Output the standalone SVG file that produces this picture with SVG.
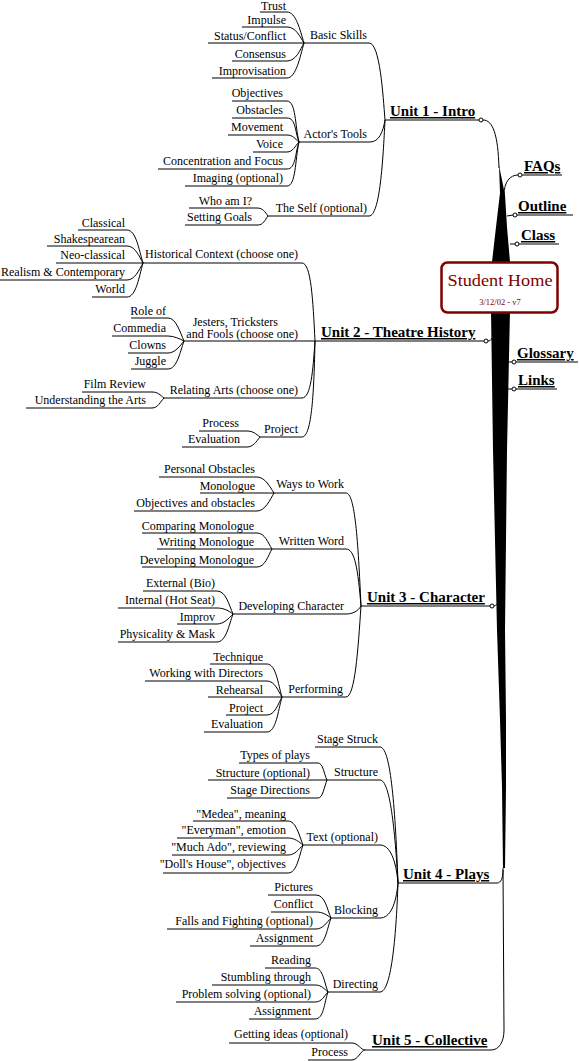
<svg xmlns="http://www.w3.org/2000/svg" width="579" height="1061" viewBox="0 0 579 1061">
<style>
text{font-family:"Liberation Serif","Times New Roman",serif;fill:#000}
.l{font-size:12px;text-anchor:end}
.u{font-size:15px;font-weight:bold;text-decoration:underline}
.k{font-size:15px;font-weight:bold;text-decoration:underline}
.c path{fill:none;stroke:#000;stroke-width:1}
.c circle{fill:#fff;stroke:#000;stroke-width:1}
.t{fill:#000}
.title{font-size:17px;fill:#800000;text-anchor:middle}
.sub{font-size:8.5px;fill:#800000;text-anchor:middle}
</style>
<rect width="579" height="1061" fill="#fff"/>
<g id="trunk">
<path class="t" d="M499,165 L503,185 L505,195 L507,227 L510,262 L492,262 L496,227 L500,193 Z"/>
<path class="t" d="M491,310 L510,310 L507,450 L505,630 L506,720 L506,787 L505,868 L503,868 L502,787 L500,720 L497,630 L493,450 Z"/>
</g>
<g id="connectors" class="c">
<path d="M260,12H287C296,12 300,30 304,43"/>
<path d="M242,27H287C296,27 300,37 304,43"/>
<path d="M208,43H369C380,43 383,95 385,120"/>
<path d="M232,61H287C296,61 300,50 304,43"/>
<path d="M212,78H287C296,78 300,57 304,43"/>
<path d="M232,101H287C296,101 295,126 299,142"/>
<path d="M232,118H287C296,118 295,132 299,142"/>
<path d="M228,135H287C293,135 295,139 299,142"/>
<path d="M253,152H287C293,152 295,146 299,142"/>
<path d="M158,169H287C296,169 295,153 299,142"/>
<path d="M185,186H287C296,186 295,160 299,142"/>
<path d="M299,142H370C379,142 383,132 385,120"/>
<path d="M189,208H257C263,208 265,212 268,216"/>
<path d="M185,225H258C263,225 265,220 268,216"/>
<path d="M268,216H369C380,216 383,160 385,120"/>
<path d="M385,120H479"/>
<circle cx="481" cy="120" r="2"/>
<path d="M483,120C493,120 498,135 499,168"/>
<path d="M504,195C504,182 510,175 518,175"/>
<circle cx="520" cy="175" r="2"/>
<path d="M522,175H562"/>
<path d="M507,216L513,215"/>
<circle cx="515" cy="215" r="2"/>
<path d="M517,215H573"/>
<path d="M510,244L515,244"/>
<circle cx="517" cy="244" r="2"/>
<path d="M519,244H559"/>
<path d="M508,362L512,362"/>
<circle cx="514" cy="362" r="2"/>
<path d="M516,362H578"/>
<path d="M507,389L512,389"/>
<circle cx="514" cy="389" r="2"/>
<path d="M516,389H557"/>
<path d="M78,230H127C136,230 139,250 143,263"/>
<path d="M47,246H127C135,246 139,256 143,263"/>
<path d="M56,263H302C311,263 313,300 315,341"/>
<path d="M0,280H127C135,280 139,270 143,263"/>
<path d="M92,297H127C136,297 139,277 143,263"/>
<path d="M131,318H168C176,318 180,332 184,341"/>
<path d="M112,336H168C174,336 180,339 184,341"/>
<path d="M128,353H168C175,353 180,346 184,341"/>
<path d="M131,369H168C177,369 180,352 184,341"/>
<path d="M184,341H315"/>
<path d="M82,392H152C158,392 160,395 164,398"/>
<path d="M26,408H152C158,408 160,402 164,398"/>
<path d="M164,398H302C311,398 313,370 315,341"/>
<path d="M199,431H247C253,431 256,434 260,437"/>
<path d="M182,447H247C253,447 256,442 260,437"/>
<path d="M260,437H302C312,437 314,390 315,341"/>
<path d="M315,341H484"/>
<circle cx="486" cy="341" r="2"/>
<path d="M488,341C490,341 491,340 492,338"/>
<path d="M159,477H257C265,477 270,487 274,493"/>
<path d="M200,493H346C355,493 358,540 361,606"/>
<path d="M134,511H257C265,511 270,500 274,493"/>
<path d="M142,533H257C265,533 268,543 272,549"/>
<path d="M157,549H346C355,549 358,570 361,606"/>
<path d="M142,567H257C265,567 268,556 272,549"/>
<path d="M143,591H217C226,591 229,605 233,614"/>
<path d="M118,608H217C224,608 229,611 233,614"/>
<path d="M177,624H217C224,624 229,618 233,614"/>
<path d="M118,642H217C226,642 229,625 233,614"/>
<path d="M233,614H346C353,614 358,611 361,606"/>
<path d="M210,664H267C276,664 278,684 282,697"/>
<path d="M145,681H267C275,681 278,691 282,697"/>
<path d="M208,697H346C355,697 358,650 361,606"/>
<path d="M226,715H267C275,715 278,704 282,697"/>
<path d="M204,732H267C276,732 278,711 282,697"/>
<path d="M361,606H490"/>
<circle cx="492" cy="606" r="2"/>
<path d="M494,606C495,606 496,605 497,604"/>
<path d="M315,747H380C390,747 395,800 398,883"/>
<path d="M239,763H318C323,763 324,774 327,780"/>
<path d="M208,780H380C390,780 395,830 398,883"/>
<path d="M227,798H318C323,798 324,787 327,780"/>
<path d="M193,821H288C296,821 299,835 303,845"/>
<path d="M177,838H288C295,838 299,842 303,845"/>
<path d="M172,855H288C295,855 299,849 303,845"/>
<path d="M163,873H288C297,873 299,856 303,845"/>
<path d="M303,845H380C390,845 396,860 398,883"/>
<path d="M268,895H316C325,895 327,909 331,918"/>
<path d="M271,912H316C323,912 327,915 331,918"/>
<path d="M167,929H316C323,929 327,922 331,918"/>
<path d="M250,946H316C325,946 327,929 331,918"/>
<path d="M331,918H380C390,918 396,905 398,883"/>
<path d="M265,968H315C323,968 324,982 328,992"/>
<path d="M212,985H315C322,985 324,989 328,992"/>
<path d="M176,1002H315C322,1002 324,996 328,992"/>
<path d="M249,1019H315C324,1019 324,1003 328,992"/>
<path d="M328,992H380C391,992 396,940 398,883"/>
<path d="M398,883H497C501,883 503,878 503,870"/>
<path d="M229,1043H352C358,1043 361,1050 365,1050"/>
<path d="M308,1060H352C358,1060 361,1050 365,1050"/>
<path d="M365,1050H491C499,1050 504,1042 504,1030L503,868"/>
</g>
<g id="student-home">
<rect x="441.5" y="262.5" width="116" height="50" rx="6" fill="#fff" stroke="#800000" stroke-width="2.5"/>
<text class="title" x="500" y="286" textLength="105" lengthAdjust="spacingAndGlyphs">Student Home</text>
<text class="sub" x="500" y="305">3/12/02 - v7</text>
</g>
<g id="faqs"><text class="k" x="524" y="171">FAQs</text></g>
<g id="outline"><text class="k" x="518" y="211">Outline</text></g>
<g id="class"><text class="k" x="521" y="240">Class</text></g>
<g id="glossary"><text class="k" x="517" y="358">Glossary</text></g>
<g id="links"><text class="k" x="518" y="385">Links</text></g>
<g id="unit1"><text class="u" x="390" y="116">Unit 1 - Intro</text></g>
<g id="basic-skills"><text class="l" x="367" y="39">Basic Skills</text></g>
<g id="trust"><text class="l" x="286" y="10">Trust</text></g>
<g id="impulse"><text class="l" x="286" y="24">Impulse</text></g>
<g id="status"><text class="l" x="286" y="40">Status/Conflict</text></g>
<g id="consensus"><text class="l" x="286" y="58">Consensus</text></g>
<g id="improvisation"><text class="l" x="286" y="75">Improvisation</text></g>
<g id="actors-tools"><text class="l" x="367" y="138">Actor's Tools</text></g>
<g id="objectives"><text class="l" x="283" y="97">Objectives</text></g>
<g id="obstacles"><text class="l" x="283" y="114">Obstacles</text></g>
<g id="movement"><text class="l" x="283" y="131">Movement</text></g>
<g id="voice"><text class="l" x="283" y="148">Voice</text></g>
<g id="concentration"><text class="l" x="283" y="165">Concentration and Focus</text></g>
<g id="imaging"><text class="l" x="283" y="182">Imaging (optional)</text></g>
<g id="the-self"><text class="l" x="367" y="212">The Self (optional)</text></g>
<g id="who-am-i"><text class="l" x="252" y="205">Who am I?</text></g>
<g id="setting-goals"><text class="l" x="252" y="221">Setting Goals</text></g>
<g id="unit2"><text class="u" x="321" y="337">Unit 2 - Theatre History</text></g>
<g id="historical"><text class="l" x="298" y="258">Historical Context (choose one)</text></g>
<g id="classical"><text class="l" x="125" y="227">Classical</text></g>
<g id="shakespearean"><text class="l" x="125" y="243">Shakespearean</text></g>
<g id="neo-classical"><text class="l" x="125" y="259">Neo-classical</text></g>
<g id="realism"><text class="l" x="125" y="276">Realism &amp; Contemporary</text></g>
<g id="world"><text class="l" x="125" y="293">World</text></g>
<g id="jesters"><text class="l" x="278" y="326">Jesters, Tricksters</text><text class="l" x="298" y="338">and Fools (choose one)</text></g>
<g id="role-of"><text class="l" x="166" y="315">Role of</text></g>
<g id="commedia"><text class="l" x="166" y="332">Commedia</text></g>
<g id="clowns"><text class="l" x="166" y="349">Clowns</text></g>
<g id="juggle"><text class="l" x="166" y="365">Juggle</text></g>
<g id="relating-arts"><text class="l" x="298" y="394">Relating Arts (choose one)</text></g>
<g id="film-review"><text class="l" x="146" y="388">Film Review</text></g>
<g id="understanding"><text class="l" x="146" y="404">Understanding the Arts</text></g>
<g id="project2"><text class="l" x="298" y="433">Project</text></g>
<g id="process2"><text class="l" x="239" y="427">Process</text></g>
<g id="evaluation2"><text class="l" x="240" y="443">Evaluation</text></g>
<g id="unit3"><text class="u" x="367" y="602">Unit 3 - Character</text></g>
<g id="ways-to-work"><text class="l" x="344" y="488">Ways to Work</text></g>
<g id="personal-obstacles"><text class="l" x="255" y="473">Personal Obstacles</text></g>
<g id="monologue"><text class="l" x="255" y="490">Monologue</text></g>
<g id="obj-obstacles"><text class="l" x="255" y="507">Objectives and obstacles</text></g>
<g id="written-word"><text class="l" x="344" y="545">Written Word</text></g>
<g id="comparing"><text class="l" x="254" y="530">Comparing Monologue</text></g>
<g id="writing"><text class="l" x="254" y="546">Writing Monologue</text></g>
<g id="developing-mono"><text class="l" x="254" y="564">Developing Monologue</text></g>
<g id="developing-char"><text class="l" x="344" y="610">Developing Character</text></g>
<g id="external"><text class="l" x="215" y="587">External (Bio)</text></g>
<g id="internal"><text class="l" x="215" y="604">Internal (Hot Seat)</text></g>
<g id="improv"><text class="l" x="215" y="621">Improv</text></g>
<g id="physicality"><text class="l" x="215" y="638">Physicality &amp; Mask</text></g>
<g id="performing"><text class="l" x="343" y="693">Performing</text></g>
<g id="technique"><text class="l" x="263" y="661">Technique</text></g>
<g id="working"><text class="l" x="263" y="677">Working with Directors</text></g>
<g id="rehearsal"><text class="l" x="263" y="694">Rehearsal</text></g>
<g id="project3"><text class="l" x="263" y="712">Project</text></g>
<g id="evaluation3"><text class="l" x="263" y="728">Evaluation</text></g>
<g id="unit4"><text class="u" x="403" y="879">Unit 4 - Plays</text></g>
<g id="stage-struck"><text class="l" x="378" y="743">Stage Struck</text></g>
<g id="structure"><text class="l" x="378" y="776">Structure</text></g>
<g id="types"><text class="l" x="310" y="759">Types of plays</text></g>
<g id="structure-opt"><text class="l" x="310" y="777">Structure (optional)</text></g>
<g id="stage-directions"><text class="l" x="310" y="794">Stage Directions</text></g>
<g id="text-opt"><text class="l" x="378" y="841">Text (optional)</text></g>
<g id="medea"><text class="l" x="286" y="818">"Medea", meaning</text></g>
<g id="everyman"><text class="l" x="286" y="834">"Everyman", emotion</text></g>
<g id="much-ado"><text class="l" x="286" y="851">"Much Ado", reviewing</text></g>
<g id="dolls-house"><text class="l" x="286" y="868">"Doll's House", objectives</text></g>
<g id="blocking"><text class="l" x="378" y="914">Blocking</text></g>
<g id="pictures"><text class="l" x="313" y="891">Pictures</text></g>
<g id="conflict"><text class="l" x="313" y="908">Conflict</text></g>
<g id="falls"><text class="l" x="313" y="925">Falls and Fighting (optional)</text></g>
<g id="assignment4a"><text class="l" x="313" y="942">Assignment</text></g>
<g id="directing"><text class="l" x="378" y="988">Directing</text></g>
<g id="reading"><text class="l" x="311" y="964">Reading</text></g>
<g id="stumbling"><text class="l" x="311" y="981">Stumbling through</text></g>
<g id="problem"><text class="l" x="311" y="998">Problem solving (optional)</text></g>
<g id="assignment4b"><text class="l" x="311" y="1015">Assignment</text></g>
<g id="unit5"><text class="u" x="372" y="1045">Unit 5 - Collective</text></g>
<g id="getting-ideas"><text class="l" x="348" y="1038">Getting ideas (optional)</text></g>
<g id="process5"><text class="l" x="348" y="1056">Process</text></g>
</svg>
